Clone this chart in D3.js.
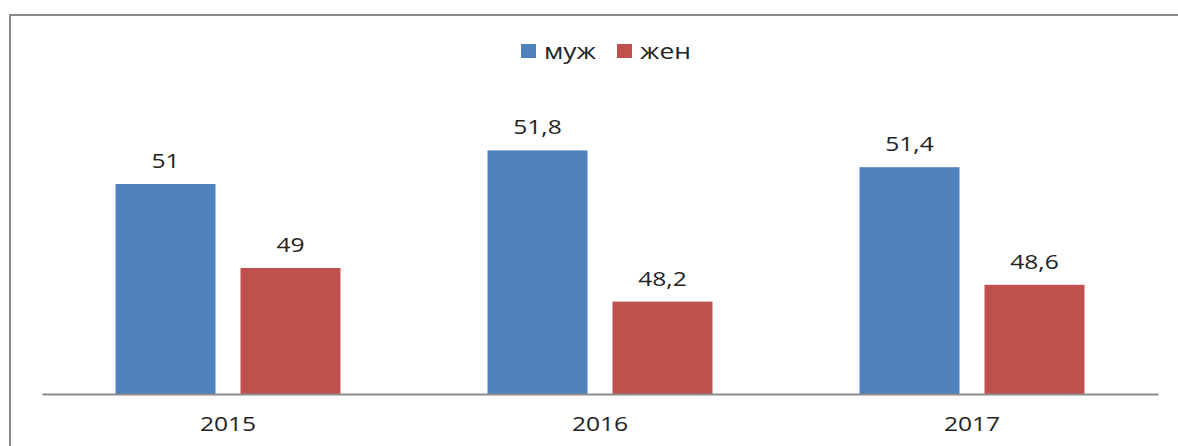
<!DOCTYPE html>
<html>
<head>
<meta charset="utf-8">
<script src="https://cdn.jsdelivr.net/npm/d3@7"></script>
<style>
  body { margin: 0; background: #fff; }
  text { font-family: "Open Sans", "DejaVu Sans", sans-serif; fill: #222; }
</style>
</head>
<body>
<svg id="chart"></svg>
<script>
const years = ["2015", "2016", "2017"];
const seriesNames = ["муж", "жен"];
const men = [51, 51.8, 51.4];
const women = [49, 48.2, 48.6];
const seriesColors = ["#4F81BD", "#C0504D"];

const W = 1178, H = 446;
const margin = { left: 42, right: 1158 };
const stretch = 1.2; // the source text looks widened

const svg = d3.select("#chart").attr("width", W).attr("height", H);

// outer frame (only top and left visible in the shot)
svg.append("line").attr("x1", 10).attr("x2", W).attr("y1", 15).attr("y2", 15)
  .attr("stroke", "#898989").attr("stroke-width", 2);
svg.append("line").attr("x1", 10).attr("x2", 10).attr("y1", 14).attr("y2", H)
  .attr("stroke", "#898989").attr("stroke-width", 2);

const x0 = d3.scaleBand().domain(years).range([margin.left, margin.right]);
const x1 = d3.scaleBand().domain(seriesNames).range([73.5, 73.5 + 225]).paddingInner(0.2);
const y = d3.scaleLinear().domain([46, 52]).range([394, 142]);

const rows = years.map((yr, i) => ({ year: yr, vals: [men[i], women[i]] }));

const groups = svg.selectAll("g.grp").data(rows).join("g")
  .attr("class", "grp")
  .attr("transform", d => `translate(${x0(d.year)},0)`);

groups.selectAll("rect").data(d => d.vals.map((v, k) => ({ k, v }))).join("rect")
  .attr("x", d => x1(seriesNames[d.k]))
  .attr("y", d => y(d.v))
  .attr("width", x1.bandwidth())
  .attr("height", d => y(46) - y(d.v))
  .attr("fill", d => seriesColors[d.k]);

groups.selectAll("text.val").data(d => d.vals.map((v, k) => ({ k, v }))).join("text")
  .attr("class", "val")
  .attr("transform", d => `translate(${x1(seriesNames[d.k]) + x1.bandwidth() / 2},${y(d.v) - 16}) scale(${stretch},1)`)
  .attr("text-anchor", "middle")
  .attr("font-size", 20.5)
  .text(d => String(d.v).replace(".", ","));

// category axis
const xAxis = svg.append("g").attr("transform", `translate(0,${y(46)})`)
  .call(d3.axisBottom(x0).tickSize(0).tickPadding(22));
xAxis.select(".domain").attr("stroke", "#8c8c8c").attr("stroke-width", 2);
xAxis.selectAll("text").attr("font-size", 20.5).attr("fill", "#222")
  .attr("font-family", "\"Open Sans\", sans-serif")
  .attr("transform", `scale(${stretch},1)`);

// legend
const legend = svg.append("g").attr("transform", "translate(521,0)");
const legX = [0, 96];
seriesNames.forEach((s, i) => {
  legend.append("rect").attr("x", legX[i]).attr("y", 44).attr("width", 15).attr("height", 14)
    .attr("fill", seriesColors[i]);
  legend.append("text").attr("transform", `translate(${legX[i] + 23},59) scale(${stretch},1)`)
    .attr("font-size", 22).text(s);
});
</script>
</body>
</html>
